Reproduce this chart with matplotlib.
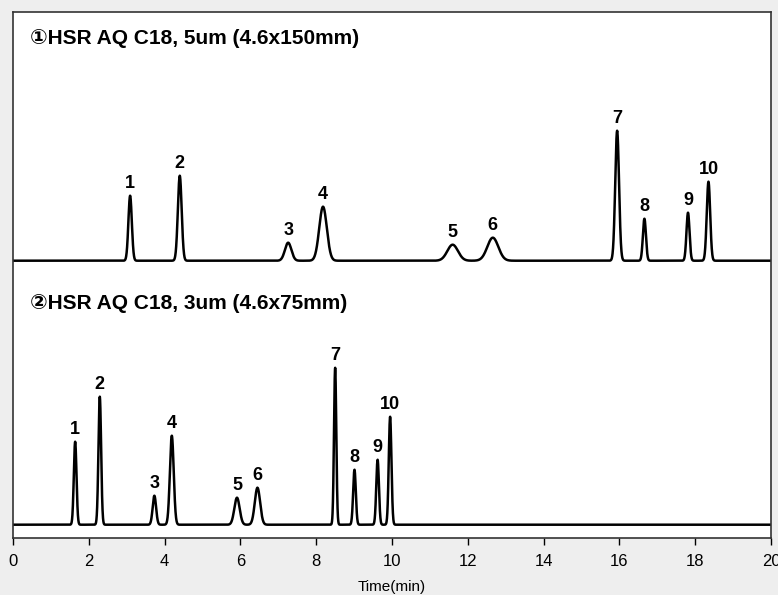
import numpy as np
import matplotlib
matplotlib.use("Agg")
import matplotlib.pyplot as plt

# peak tables (time in min, height, width sigma in min)
peak_ids = ["1", "2", "3", "4", "5", "6", "7", "8", "9", "10"]

top_rt = [3.09, 4.40, 7.26, 8.18, 11.60, 12.66, 15.94, 16.66, 17.81, 18.35]
top_h = [65, 85, 18, 54, 16, 23, 130, 42, 48, 79]
top_w = [0.045, 0.05, 0.085, 0.10, 0.14, 0.145, 0.05, 0.04, 0.04, 0.045]

bot_rt = [1.64, 2.29, 3.73, 4.19, 5.91, 6.45, 8.50, 9.01, 9.62, 9.95]
bot_h = [83, 128, 29, 89, 27, 37, 157, 55, 65, 108]
bot_w = [0.035, 0.035, 0.045, 0.05, 0.07, 0.07, 0.03, 0.035, 0.035, 0.035]

top_base = 277
bot_base = 13

top_title = "①HSR AQ C18, 5um (4.6x150mm)"
bot_title = "②HSR AQ C18, 3um (4.6x75mm)"

fonts = ["Liberation Sans", "DejaVu Sans"]
narrow = ["Liberation Sans Narrow", "Liberation Sans", "DejaVu Sans"]

t = np.linspace(0, 20, 8000)


def trace(rts, hs, ws, base):
    y = np.full_like(t, base, dtype=float)
    for rt, h, w in zip(rts, hs, ws):
        y += h * np.exp(-0.5 * ((t - rt) / w) ** 2)
    return y


fig = plt.figure(figsize=(7.78, 5.95), dpi=100, facecolor="#eeeeee")
ax = fig.add_axes([13 / 778, (595 - 537.7) / 595, 758 / 778, 525.7 / 595])
ax.set_facecolor("white")

for rts, hs, ws, base in [(top_rt, top_h, top_w, top_base), (bot_rt, bot_h, bot_w, bot_base)]:
    ax.plot(t, trace(rts, hs, ws, base), color="black", lw=1.8)
    for lab, rt, h in zip(peak_ids, rts, hs):
        ax.annotate(lab, (rt, base + h), xytext=(0, 3), textcoords="offset points",
                    ha="center", va="bottom", fontsize=13, fontweight="bold",
                    family=fonts)

ax.text(0.022, 0.95, top_title, transform=ax.transAxes, fontsize=15,
        fontweight="bold", va="center", ha="left", family=fonts)
ax.text(0.022, 0.446, bot_title, transform=ax.transAxes, fontsize=15,
        fontweight="bold", va="center", ha="left", family=fonts)

ax.set_xlim(0, 20)
ax.set_ylim(0, 525.7)
ax.set_xticks(range(0, 21, 2))
ax.set_yticks([])
ax.tick_params(axis="x", direction="out", length=5, width=1, labelsize=12, pad=7)
for lab in ax.get_xticklabels():
    lab.set_family(narrow)
ax.set_xlabel("Time(min)", fontsize=11, family=narrow, labelpad=8)
for s in ax.spines.values():
    s.set_color("#333333")
    s.set_linewidth(1.2)

fig.savefig("out.png", dpi=100, facecolor=fig.get_facecolor())
